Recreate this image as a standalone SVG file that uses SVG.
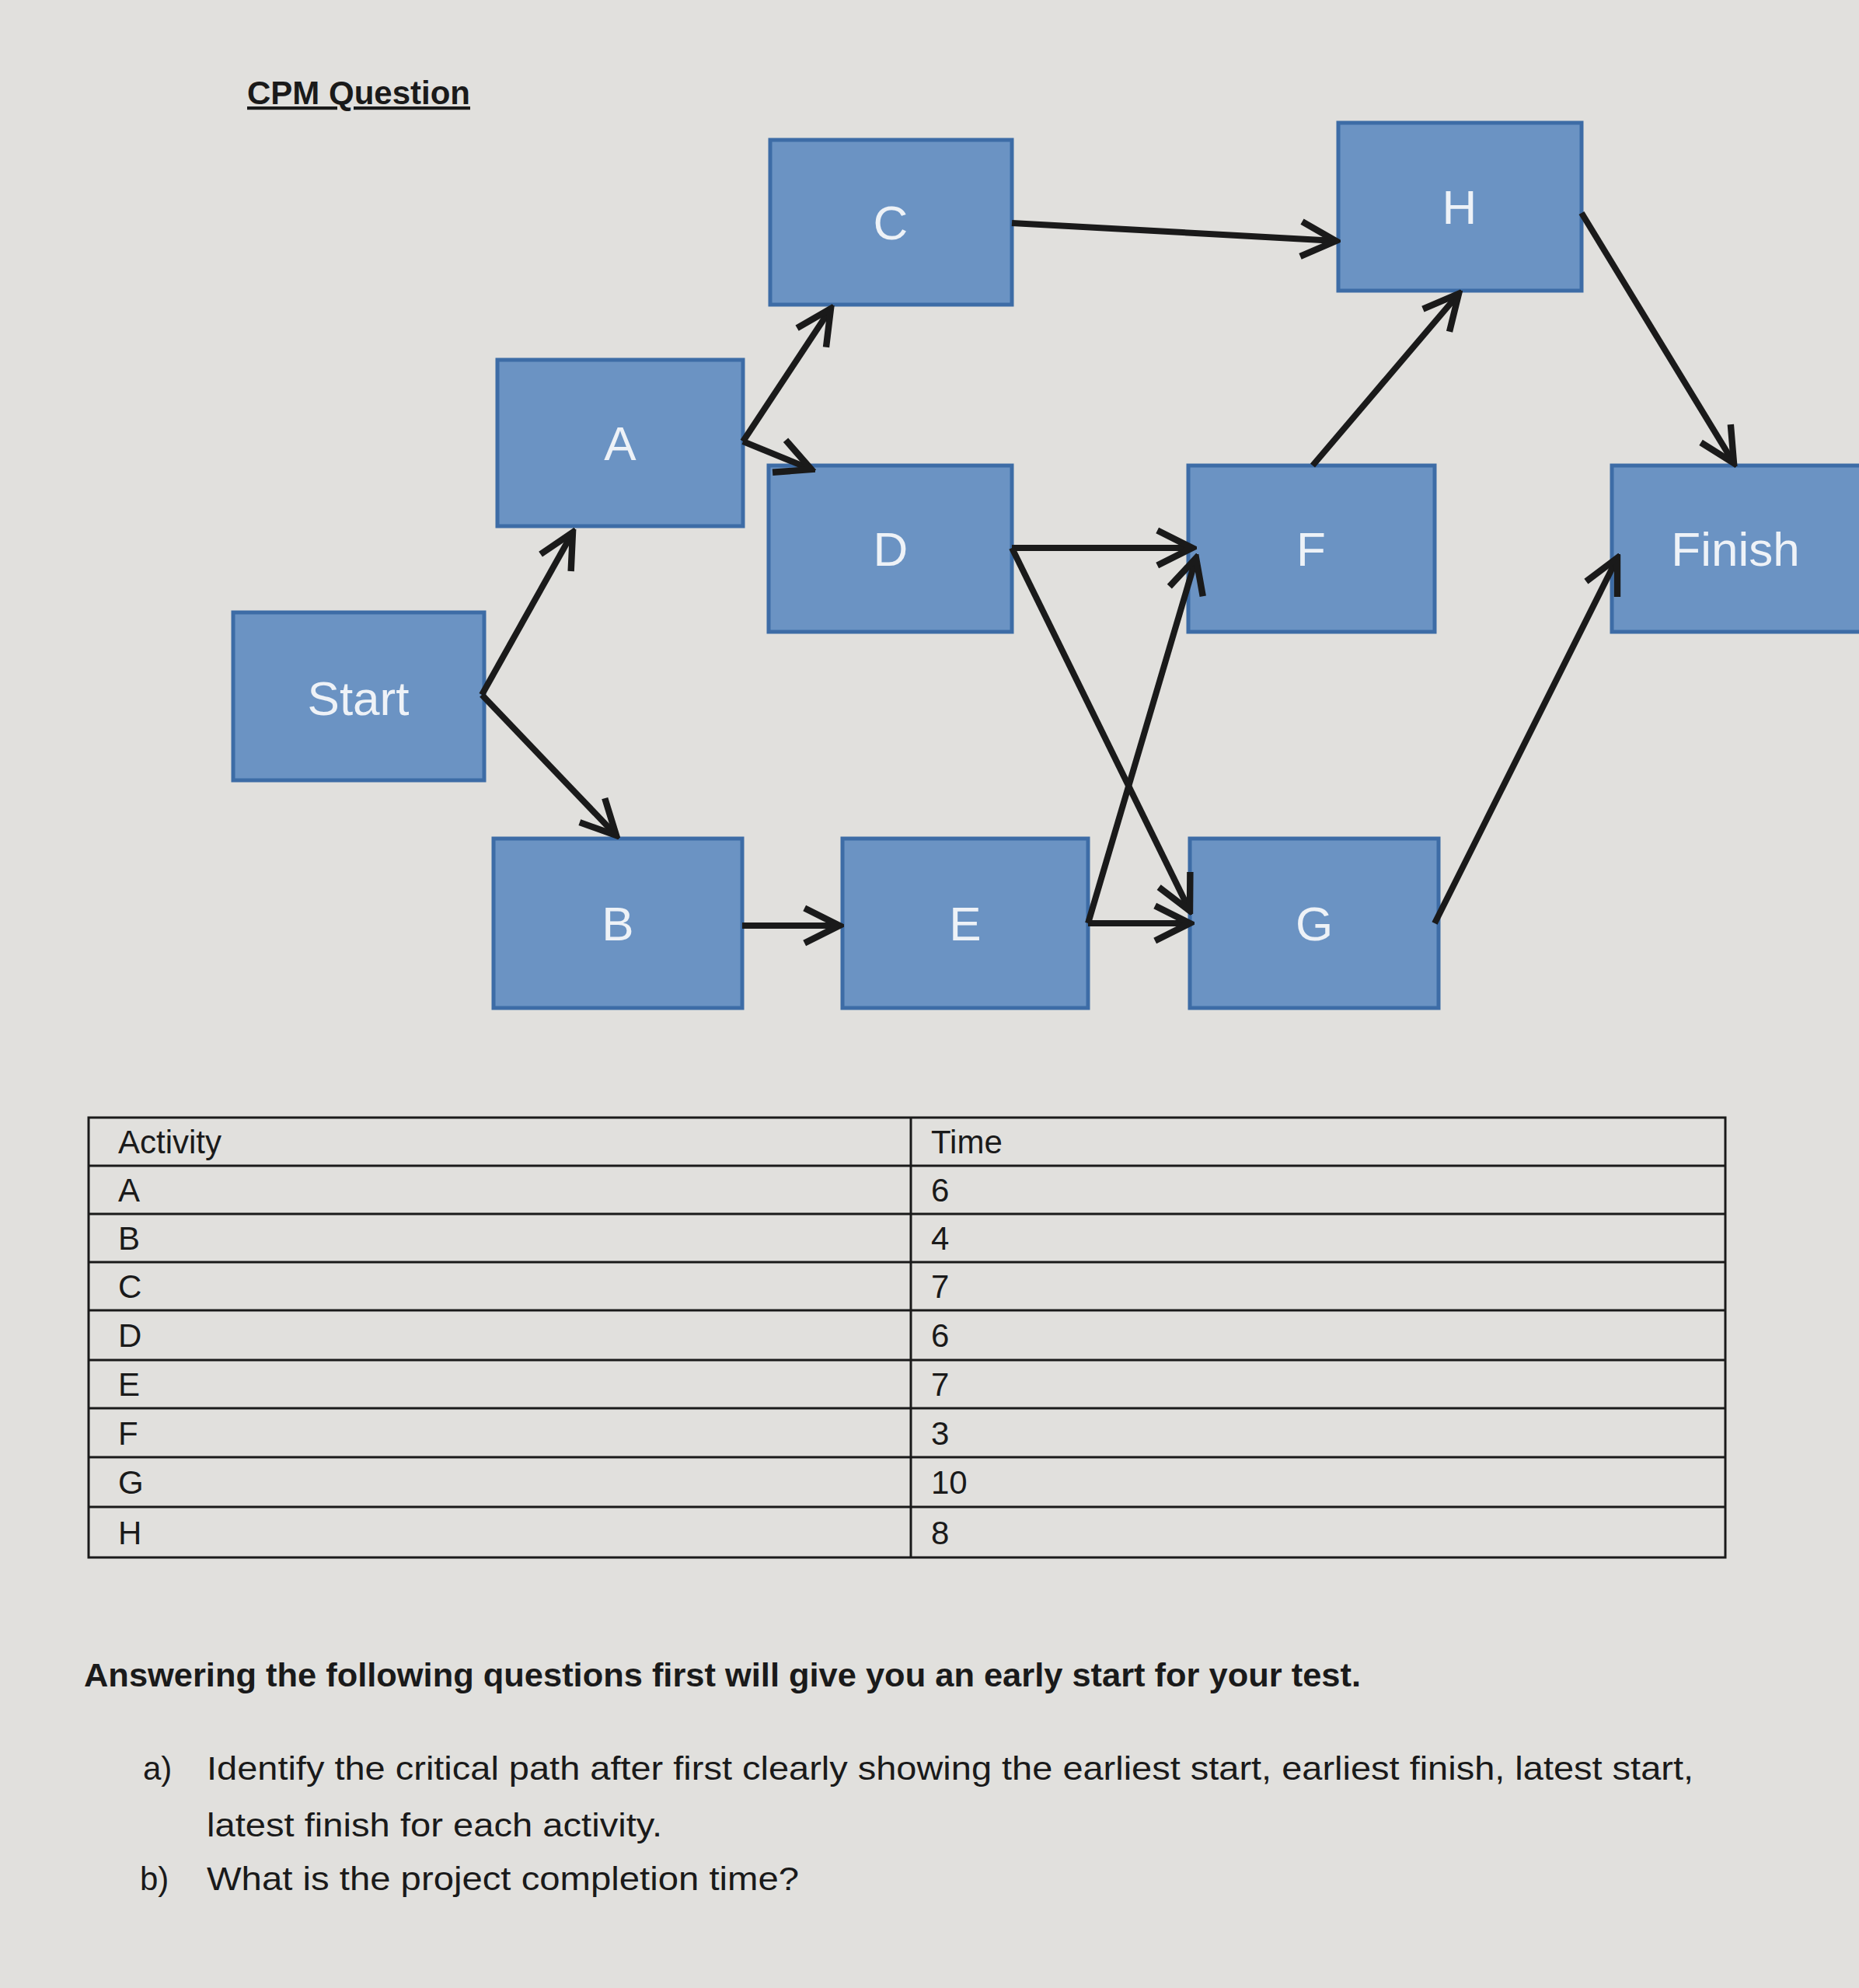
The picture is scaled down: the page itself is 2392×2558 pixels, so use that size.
<svg xmlns="http://www.w3.org/2000/svg" width="2392" height="2558" viewBox="0 0 2392 2558">
<defs>
<marker id="ah" viewBox="0 0 20 20" refX="18" refY="10" markerWidth="7" markerHeight="7" markerUnits="strokeWidth" orient="auto">
<polyline points="2,2 18,10 2,18" fill="none" stroke="#1a1a1a" stroke-width="3"/>
</marker>
</defs>
<style>
.n{fill:#6b93c3;stroke:#3d6ca6;stroke-width:5}
.nt{font-family:"Liberation Sans",sans-serif;font-size:62px;fill:#eef2f7;text-anchor:middle}
.c{stroke:#1a1a1a;stroke-width:8;fill:none;marker-end:url(#ah)}
.t{font-family:"Liberation Sans",sans-serif;font-size:42px;fill:#1a1a1a}
.tb{stroke:#1a1a1a;stroke-width:3;fill:none}
</style>
<rect width="2392" height="2558" fill="#e1e0dd"/>
<text x="318" y="134" class="t" font-size="42" font-weight="bold" text-decoration="underline">CPM Question</text>
<g id="C"><rect class="n" x="991" y="180" width="311" height="212"/><text class="nt" x="1146" y="308">C</text></g>
<g id="H"><rect class="n" x="1722" y="158" width="313" height="216"/><text class="nt" x="1878" y="288">H</text></g>
<g id="A"><rect class="n" x="640" y="463" width="316" height="214"/><text class="nt" x="798" y="592">A</text></g>
<g id="D"><rect class="n" x="989" y="599" width="313" height="214"/><text class="nt" x="1146" y="728">D</text></g>
<g id="F"><rect class="n" x="1529" y="599" width="317" height="214"/><text class="nt" x="1687" y="728">F</text></g>
<g id="Finish"><rect class="n" x="2074" y="599" width="330" height="214"/><text class="nt" x="2233" y="728" font-size="68">Finish</text></g>
<g id="Start"><rect class="n" x="300" y="788" width="323" height="216"/><text class="nt" x="461" y="920" font-size="66">Start</text></g>
<g id="B"><rect class="n" x="635" y="1079" width="320" height="218"/><text class="nt" x="795" y="1210">B</text></g>
<g id="E"><rect class="n" x="1084" y="1079" width="316" height="218"/><text class="nt" x="1242" y="1210">E</text></g>
<g id="G"><rect class="n" x="1531" y="1079" width="320" height="218"/><text class="nt" x="1691" y="1210">G</text></g>
<g id="connectors">
<line class="c" x1="620" y1="894" x2="737" y2="685"/>
<line class="c" x1="620" y1="894" x2="793" y2="1075"/>
<line class="c" x1="956" y1="568" x2="1069" y2="397"/>
<line class="c" x1="956" y1="568" x2="1044" y2="604"/>
<line class="c" x1="1302" y1="287" x2="1719" y2="310"/>
<line class="c" x1="1302" y1="705" x2="1534" y2="705"/>
<line class="c" x1="1302" y1="705" x2="1531" y2="1172"/>
<line class="c" x1="955" y1="1191" x2="1080" y2="1191"/>
<line class="c" x1="1400" y1="1188" x2="1531" y2="1188"/>
<line class="c" x1="1400" y1="1188" x2="1539" y2="718"/>
<line class="c" x1="1689" y1="599" x2="1877" y2="378"/>
<line class="c" x1="2035" y1="274" x2="2231" y2="596"/>
<line class="c" x1="1846" y1="1188" x2="2081" y2="718"/>
</g>
<g id="table">
<rect class="tb" x="114" y="1438" width="2106" height="566"/>
<line class="tb" x1="1172" y1="1438" x2="1172" y2="2004"/>
<line class="tb" x1="114" y1="1500" x2="2220" y2="1500"/>
<line class="tb" x1="114" y1="1562" x2="2220" y2="1562"/>
<line class="tb" x1="114" y1="1624" x2="2220" y2="1624"/>
<line class="tb" x1="114" y1="1686" x2="2220" y2="1686"/>
<line class="tb" x1="114" y1="1750" x2="2220" y2="1750"/>
<line class="tb" x1="114" y1="1812" x2="2220" y2="1812"/>
<line class="tb" x1="114" y1="1875" x2="2220" y2="1875"/>
<line class="tb" x1="114" y1="1939" x2="2220" y2="1939"/>
<g class="t">
<text x="152" y="1484">Activity</text><text x="1198" y="1484">Time</text>
<text x="152" y="1546">A</text><text x="1198" y="1546">6</text>
<text x="152" y="1608">B</text><text x="1198" y="1608">4</text>
<text x="152" y="1670">C</text><text x="1198" y="1670">7</text>
<text x="152" y="1733">D</text><text x="1198" y="1733">6</text>
<text x="152" y="1796">E</text><text x="1198" y="1796">7</text>
<text x="152" y="1859">F</text><text x="1198" y="1859">3</text>
<text x="152" y="1922">G</text><text x="1198" y="1922">10</text>
<text x="152" y="1987">H</text><text x="1198" y="1987">8</text>
</g>
</g>
<text class="t" x="108" y="2170" font-weight="bold" textLength="1643" lengthAdjust="spacingAndGlyphs">Answering the following questions first will give you an early start for your test.</text>
<text class="t" x="184" y="2290">a)</text>
<text class="t" x="266" y="2290" textLength="1913" lengthAdjust="spacingAndGlyphs">Identify the critical path after first clearly showing the earliest start, earliest finish, latest start,</text>
<text class="t" x="266" y="2363" textLength="586" lengthAdjust="spacingAndGlyphs">latest finish for each activity.</text>
<text class="t" x="180" y="2432">b)</text>
<text class="t" x="266" y="2432" textLength="762" lengthAdjust="spacingAndGlyphs">What is the project completion time?</text>
</svg>
